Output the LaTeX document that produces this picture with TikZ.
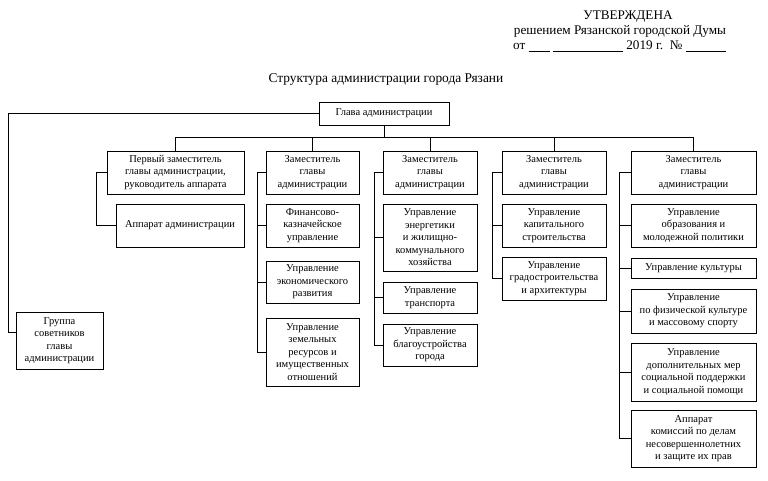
\documentclass[tikz,border=0pt]{standalone}
\usepackage{fontspec}
\setmainfont{Liberation Serif}
\tikzset{
  box/.style={draw, line width=0.8pt, align=center, inner sep=1pt,
    font=\fontsize{10.5}{12.5}\selectfont},
  wh/.style 2 args={minimum width=#1pt, minimum height=#2pt},
  link/.style={line width=0.8pt},
  head/.style={inner sep=0pt, font=\fontsize{13.2}{14.5}\selectfont},
}
\newcommand{\blank}[1]{\rule[-1.5pt]{#1pt}{0.5pt}}
\begin{document}
\begin{tikzpicture}[x=1pt,y=-1pt]
\useasboundingbox (0,0) rectangle (768,481);
% heading
\node[head] (utv) at (628,17) {УТВЕРЖДЕНА};
\node[head] (resh) at (620,31) {решением Рязанской городской Думы};
\node[head, anchor=west] (ot) at (513,46) {от \blank{21} \blank{70} 2019 г.\ \ № \blank{40}};
\node[head, font=\fontsize{13.4}{15}\selectfont] (title) at (386,80) {Структура администрации города Рязани};
% boxes
\node[box, wh={130}{23}] (glava) at (384,113.5) {Глава администрации};
\node[box, wh={137}{43}] (dep1) at (175.5,172.5) {Первый заместитель\\главы администрации,\\руководитель аппарата};
\node[box, wh={128}{43}] (apparat) at (180,225.5) {Аппарат администрации};
\node[box, wh={93}{43}] (dep2) at (312.5,172.5) {Заместитель\\главы\\администрации};
\node[box, wh={93}{43}] (fin) at (312.5,225.5) {Финансово-\\казначейское\\управление};
\node[box, wh={93}{42}] (econ) at (312.5,282) {Управление\\экономического\\развития};
\node[box, wh={93}{68}] (zem) at (312.5,352) {Управление\\земельных\\ресурсов и\\имущественных\\отношений};
\node[box, wh={94}{43}] (dep3) at (430,172.5) {Заместитель\\главы\\администрации};
\node[box, wh={94}{67}] (energ) at (430,237.5) {Управление\\энергетики\\и жилищно-\\коммунального\\хозяйства};
\node[box, wh={94}{31}] (transp) at (430,297.5) {Управление\\транспорта};
\node[box, wh={94}{42}] (blag) at (430,345) {Управление\\благоустройства\\города};
\node[box, wh={104}{43}] (dep4) at (554,172.5) {Заместитель\\главы\\администрации};
\node[box, wh={104}{43}] (kap) at (554,225.5) {Управление\\капитального\\строительства};
\node[box, wh={104}{43}] (grad) at (554,278.5) {Управление\\градостроительства\\и архитектуры};
\node[box, wh={125}{43}] (dep5) at (693.5,172.5) {Заместитель\\главы\\администрации};
\node[box, wh={125}{43}] (obr) at (693.5,225.5) {Управление\\образования и\\молодежной политики};
\node[box, wh={125}{20}] (kult) at (693.5,268) {Управление культуры};
\node[box, wh={125}{44}] (fiz) at (693.5,311) {Управление\\по физической культуре\\и массовому спорту};
\node[box, wh={125}{58}] (dop) at (693.5,372) {Управление\\дополнительных мер\\социальной поддержки\\и социальной помощи};
\node[box, wh={125}{57}] (kom) at (693.5,438.5) {Аппарат\\комиссий по делам\\несовершеннолетних\\и защите их прав};
\node[box, wh={87}{57}] (gruppa) at (59.5,340.5) {Группа\\советников\\главы\\администрации};
% connectors
\draw[link] (glava.south) -- ++(0,13);
\draw[link] (dep1.north) -- ++(0,-13) -| (dep5.north);
\foreach \d in {dep2,dep3,dep4}
  \draw[link] (\d.north) -- ++(0,-13);
\draw[link] (glava.west) -- ++(-310,0) |- ([yshift=8]gruppa.west);
\foreach \dep/\last/\off in {dep1/apparat/10, dep2/zem/8, dep3/blag/8, dep4/grad/9, dep5/kom/11}
  \draw[link] (\dep.west) -- ++(-\off,0) |- (\last.west);
\foreach \sub/\off in {fin/8, econ/8, energ/8, transp/8, kap/9, obr/11, kult/11, fiz/11, dop/11}
  \draw[link] (\sub.west) -- ++(-\off,0);
\end{tikzpicture}
\end{document}
